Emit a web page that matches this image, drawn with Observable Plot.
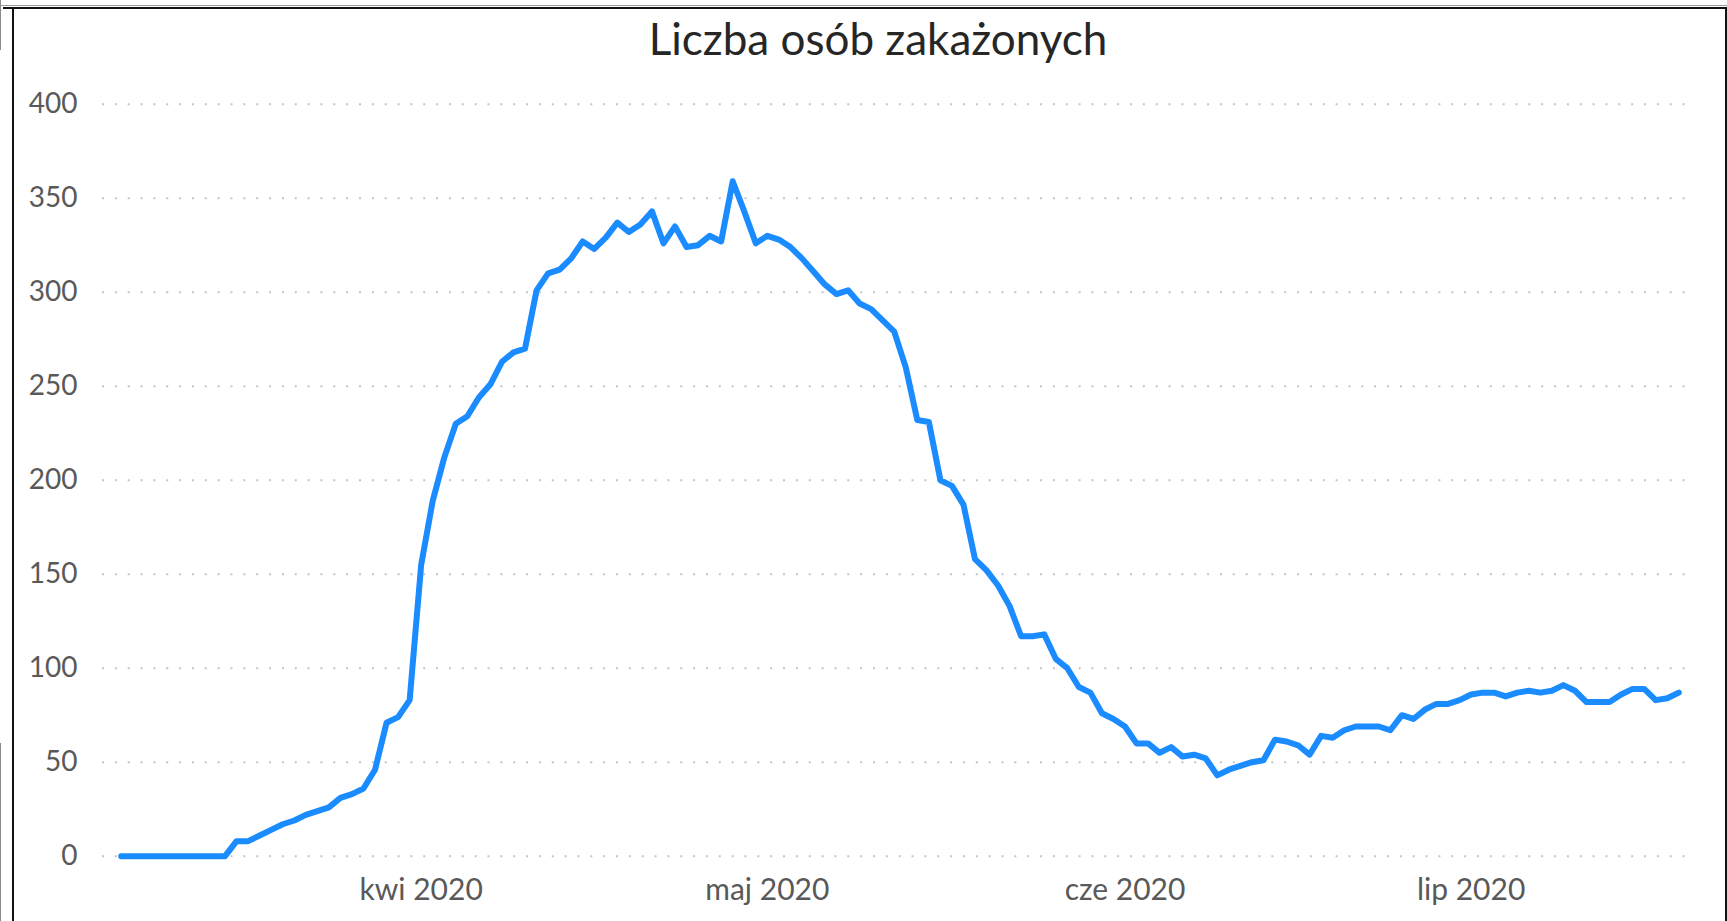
<!DOCTYPE html>
<html>
<head>
<meta charset="utf-8">
<script src="https://cdn.jsdelivr.net/npm/d3@7"></script>
<script src="https://cdn.jsdelivr.net/npm/@observablehq/plot@0.6"></script>
<style>
  html, body { margin: 0; padding: 0; background: #fff; }
  #wrap { position: relative; width: 1727px; height: 921px; overflow: hidden; background: #fff; }
  #wrap svg { position: absolute; left: 0; top: 0; }
  .ln { position: absolute; }
</style>
</head>
<body>
<div id="wrap">
  <div class="ln" style="left:0;top:5px;width:1727px;height:1px;background:#9a9a9a"></div>
  <div class="ln" style="left:0;top:0;width:1px;height:50px;background:#8a8a8a"></div>
  <div class="ln" style="left:0;top:743px;width:1px;height:178px;background:#8a8a8a"></div>
  <div class="ln" style="left:3px;top:7px;width:1724px;height:2px;background:#111"></div>
  <div class="ln" style="left:12px;top:7px;width:2px;height:914px;background:#111"></div>
  <div class="ln" style="left:1725px;top:7px;width:2px;height:914px;background:#111"></div>
</div>
<script>
// ---- data ----
const title = "Liczba osób zakażonych";
const firstDay = Date.UTC(2020, 2, 6); // 6 March 2020, one value per day
const infected = [
  0, 0, 0, 0, 0, 0, 0, 0, 0, 0,
  8, 8, 11, 14, 17, 19, 22, 24, 26, 31,
  33, 36, 46, 71, 74, 83, 155, 189, 212, 230,
  234, 244, 251, 263, 268, 270, 301, 310, 312, 318,
  327, 323, 329, 337, 332, 336, 343, 326, 335, 324,
  325, 330, 327, 359, 343, 326, 330, 328, 324, 318,
  311, 304, 299, 301, 294, 291, 285, 279, 260, 232,
  231, 200, 197, 187, 158, 152, 144, 133, 117, 117,
  118, 105, 100, 90, 87, 76, 73, 69, 60, 60,
  55, 58, 53, 54, 52, 43, 46, 48, 50, 51,
  62, 61, 59, 54, 64, 63, 67, 69, 69, 69,
  67, 75, 73, 78, 81, 81, 83, 86, 87, 87,
  85, 87, 88, 87, 88, 91, 88, 82, 82, 82,
  86, 89, 89, 83, 84, 87
];
const monthTicks = [Date.UTC(2020, 3, 1), Date.UTC(2020, 4, 1), Date.UTC(2020, 5, 1), Date.UTC(2020, 6, 1)];
const monthLabels = ["kwi 2020", "maj 2020", "cze 2020", "lip 2020"];
const yTicks = [0, 50, 100, 150, 200, 250, 300, 350, 400];

// ---- build ----
const DAY = 864e5;
const rows = infected.map((v, i) => ({date: new Date(firstDay + i * DAY), value: v}));
const lastDay = firstDay + (infected.length - 1) * DAY;
const labelOf = new Map(monthTicks.map((t, i) => [t, monthLabels[i]]));
const FONT = "Lato, 'Open Sans', sans-serif";

const chart = Plot.plot({
  width: 1727,
  height: 921,
  marginLeft: 102,
  marginRight: 39,
  marginTop: 103.7,
  marginBottom: 65.3,
  style: {fontFamily: FONT, background: "transparent", overflow: "visible"},
  x: {type: "utc", domain: [new Date(firstDay - 1.62 * DAY), new Date(lastDay + 0.84 * DAY)]},
  y: {domain: [0, 400]},
  marks: [
    Plot.gridY(yTicks, {stroke: "#c4c4c4", strokeOpacity: 1, strokeWidth: 2, strokeDasharray: "2 10.85"}),
    Plot.axisY(yTicks, {tickSize: 0, tickPadding: 25, fontSize: 28, fill: "#595959", label: null}),
    Plot.axisX(monthTicks.map(t => new Date(t)), {
      tickSize: 0, tickPadding: 22, fontSize: 30, fill: "#595959", label: null,
      tickFormat: d => labelOf.get(+d)
    }),
    Plot.line(rows, {x: "date", y: "value", stroke: "#1a8cff", strokeWidth: 6,
      strokeLinejoin: "round", strokeLinecap: "round"})
  ]
});

d3.select(chart).append("text")
  .attr("x", 878).attr("y", 55)
  .attr("text-anchor", "middle")
  .attr("font-family", FONT)
  .attr("font-size", 44)
  .attr("fill", "#262626")
  .text(title);

document.getElementById("wrap").prepend(chart);
</script>
</body>
</html>
